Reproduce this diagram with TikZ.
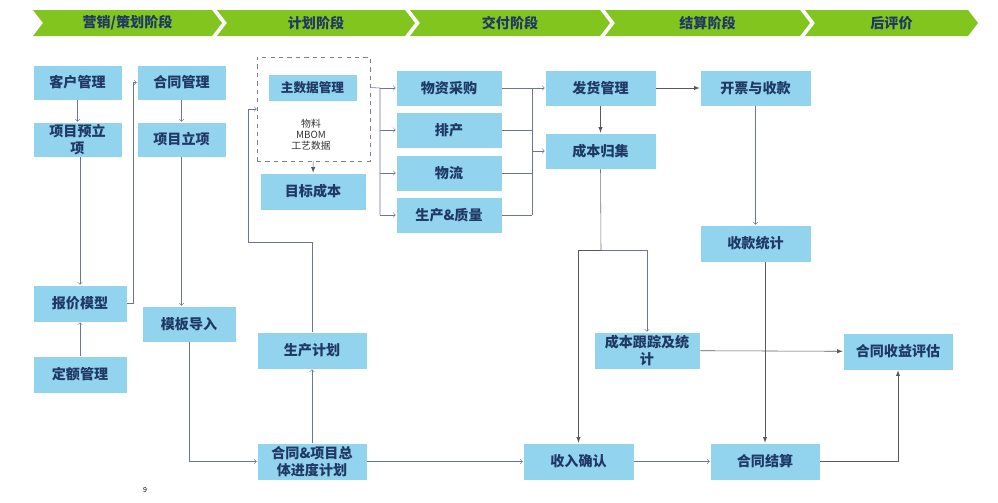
\documentclass[tikz,border=0pt]{standalone}
\usepackage{fontspec}
\setmainfont{Noto Sans CJK SC}
\usetikzlibrary{positioning}
\definecolor{boxblue}{HTML}{92D3EE}
\definecolor{navy}{HTML}{1F3864}
\definecolor{stagegreen}{HTML}{82C51E}
\definecolor{linkgrey}{HTML}{6E7398}
\tikzset{
  box/.style n args={2}{fill=boxblue,draw=white,thin,text=navy,font=\bfseries,
    align=center,inner sep=0pt,minimum width=#1*0.025cm,minimum height=#2*0.025cm},
  link/.style={draw=linkgrey,thin,->},
  strong/.style={draw=black!65,thin,-latex},
  stage/.style={text=navy,font=\bfseries}
}
\begin{document}
\begin{tikzpicture}[x=0.025cm,y=-0.025cm]
\useasboundingbox (0,0) rectangle (998,502);
% stage banner
\foreach \a/\b/\t in {33/212/{营销/策划阶段}, 217/405/计划阶段, 410/600/交付阶段, 605/800/结算阶段, 805/968/后评价} {
  \fill[stagegreen] (\a,10) -- (\b,10) -- (\b+10,23) -- (\b,36) -- (\a,36) -- (\a+10,23) -- cycle;
  \node[stage] at ({(\a+\b)/2+5},23) {\t};
}
% marketing / planning
\node[box={89}{35}] (kh) at (77.5,82.5) {客户管理};
\node[box={89}{35}] (xmyl) at (77.5,139.5) {项目预立\\项};
\node[box={89}{35}] (htgl) at (181.5,82.5) {合同管理};
\node[box={89}{35}] (xmlx) at (181.5,139.5) {项目立项};
\node[box={94}{37}] (bj) at (80,303.5) {报价模型};
\node[box={94}{37}] (de) at (80,374.5) {定额管理};
\node[box={94}{36}] (mb) at (189,324) {模板导入};
% planning
\node[draw=black!50,dashed,minimum width=113*0.025cm,minimum height=104*0.025cm] (dsj) at (313.5,109) {};
\node[box={89}{27},font=\bfseries\small] (zsj) at (312.5,87.5) {主数据管理};
\node[font=\scriptsize,align=center,text=black!80,inner sep=0pt] (wl) at (311,135) {物料\\MBOM\\工艺数据};
\node[box={106}{37}] (mbcb) at (313,191.5) {目标成本};
\node[box={110}{37}] (scjh) at (312,350.5) {生产计划};
\node[box={110}{37}] (jd) at (312,461.5) {合同\&项目总\\体进度计划};
% delivery
\node[box={106}{36}] (wzcg) at (449,88) {物资采购};
\node[box={106}{36}] (pc) at (449,130) {排产};
\node[box={106}{36}] (wlu) at (449,173) {物流};
\node[box={106}{36}] (scz) at (449,215) {生产\&质量};
\node[box={111}{36}] (fh) at (600.5,88) {发货管理};
\node[box={111}{36}] (cbgj) at (600.5,151) {成本归集};
\node[box={111}{37}] (sr) at (578.5,461.5) {收入确认};
% settlement
\node[box={111}{36}] (kp) at (755.5,88) {开票与收款};
\node[box={111}{37}] (sktj) at (755.5,243.5) {收款统计};
\node[box={106}{37}] (cbgz) at (647,350.5) {成本跟踪及统\\计};
\node[box={110}{37}] (js) at (765,461.5) {合同结算};
\node[box={110}{37}] (syp) at (898,351.5) {合同收益评估};
\node[font=\tiny] (pg) at (145,490) {9};
% connectors
\coordinate (turn) at (248,242);
\coordinate (fork) at (380,88);
\coordinate (merge) at (532,88);
\coordinate (split) at (601,250);
\draw[link] (kh) -- (xmyl);
\draw[link] (xmyl.south -| bj.north) -- (bj.north);
\draw[link] (de) -- (bj);
\draw[link] (bj.east) -- ++(6,0) |- (htgl.west);
\draw[link] (htgl) -- (xmlx);
\draw[link] (xmlx.south) -- (xmlx.south |- mb.north);
\draw[link] (mb.south) |- (jd.west);
\draw[link] (jd) -- (scjh);
\draw[link] (scjh.north) |- (turn) |- (dsj.west);
\draw[strong] (dsj) -- (mbcb);
\draw[draw=linkgrey,thin] (dsj.east |- zsj.east) -- (fork) -- (fork |- scz.west);
\foreach \n in {wzcg,pc,wlu,scz} \draw[link] (fork |- \n.west) -- (\n.west);
\foreach \n in {pc,wlu,scz} \draw[draw=linkgrey,thin] (\n.east) -- (\n.east -| merge);
\draw[draw=linkgrey,thin] (merge) -- (merge |- scz.east);
\draw[link] (wzcg.east) -- (fh.west);
\draw[link] (merge |- cbgj.west) -- (cbgj.west);
\draw[strong] (fh) -- (cbgj);
\draw[strong] (fh) -- (kp);
\draw[link] (kp) -- (sktj);
\draw[draw=black!55,thin] (cbgj.south) -- (split);
\draw[strong] (split) -| (sr.north);
\draw[link] (split) -| (cbgz.north);
\draw[strong] (sktj.south -| js.north) -- (js.north);
\draw[strong] (cbgz) -- (syp);
\draw[link] (jd) -- (sr);
\draw[link] (sr) -- (js);
\draw[strong] (js.east) -| (syp.south);
\end{tikzpicture}
\end{document}
